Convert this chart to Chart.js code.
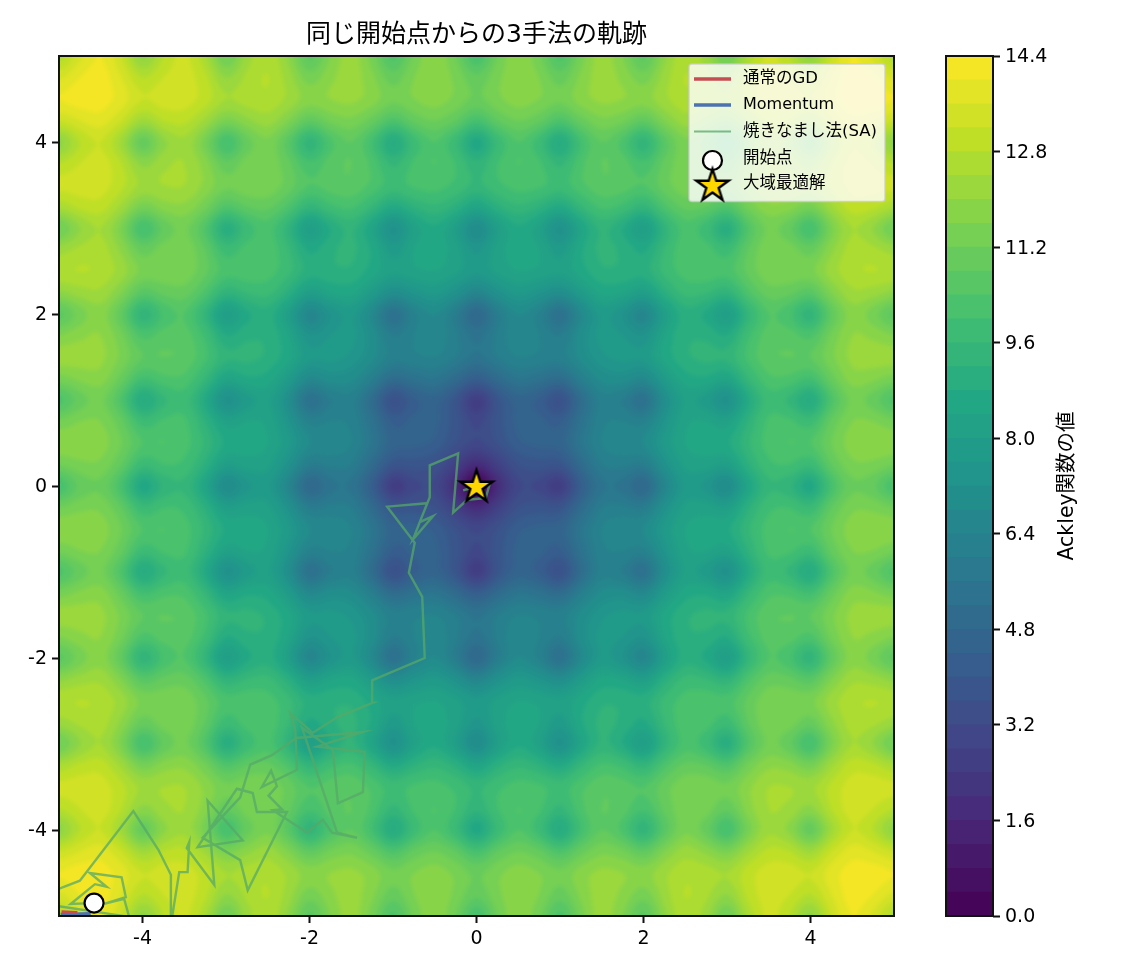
<!DOCTYPE html>
<html lang="ja">
<head>
<meta charset="utf-8">
<title>同じ開始点からの3手法の軌跡</title>
<script src="https://cdn.jsdelivr.net/npm/chart.js@4/dist/chart.umd.min.js"></script>
<style>
  body { margin: 0; background: #fff; }
  canvas { position: absolute; top: 0; }
  #main { left: 0; }
  #bar { left: 930px; }
</style>
</head>
<body>
<canvas id="main" width="1125" height="975"></canvas>
<canvas id="bar" width="195" height="975"></canvas>
<script>
// surface is symmetric about both axes, so the table holds one quadrant:
// rows are y = 0 .. 5 and columns x = 0 .. 5, in steps of gridStep
const gridStep = 0.25;
const surface = [
  [0,1.8,3.1,3.1,2.6,4.3,5.5,5.5,4.9,6.5,7.7,7.5,6.9,8.4,9.5,9.3,8.6,10.1,11.1,10.9,10.1],
  [1.8,2.7,3.6,3.8,3.8,5.0,6.0,6.1,6.0,7.2,8.1,8.2,8.0,9.1,9.9,10.0,9.7,10.8,11.5,11.5,11.2],
  [3.1,3.6,4.3,4.5,4.6,5.6,6.4,6.7,6.8,7.7,8.4,8.6,8.7,9.5,10.2,10.4,10.4,11.2,11.8,11.9,11.9],
  [3.1,3.8,4.5,4.5,4.3,5.4,6.3,6.4,6.3,7.4,8.3,8.4,8.2,9.2,10.1,10.1,9.8,10.9,11.6,11.6,11.3],
  [2.6,3.8,4.6,4.3,3.6,5.1,6.2,6.0,5.4,7.0,8.1,7.8,7.2,8.7,9.8,9.5,8.8,10.3,11.3,11.0,10.3],
  [4.3,5.0,5.6,5.4,5.1,6.1,6.9,7.0,6.7,7.8,8.6,8.7,8.4,9.5,10.3,10.3,10.0,11.0,11.8,11.7,11.4],
  [5.5,6.0,6.4,6.3,6.2,6.9,7.5,7.7,7.7,8.5,9.1,9.3,9.3,10.1,10.7,10.8,10.8,11.5,12.1,12.2,12.2],
  [5.5,6.1,6.7,6.4,6.0,7.0,7.7,7.6,7.3,8.4,9.1,9.1,8.8,9.9,10.6,10.6,10.3,11.3,12.0,11.9,11.6],
  [4.9,6.0,6.8,6.3,5.4,6.7,7.7,7.3,6.6,8.0,9.0,8.7,8.0,9.4,10.4,10.1,9.4,10.8,11.8,11.4,10.7],
  [6.5,7.2,7.7,7.4,7.0,7.8,8.5,8.4,8.0,9.0,9.7,9.6,9.3,10.3,11.0,10.9,10.6,11.6,12.3,12.2,11.9],
  [7.7,8.1,8.4,8.3,8.1,8.6,9.1,9.1,9.0,9.7,10.2,10.3,10.2,10.9,11.5,11.5,11.5,12.2,12.7,12.8,12.7],
  [7.5,8.2,8.6,8.4,7.8,8.7,9.3,9.1,8.7,9.6,10.3,10.2,9.8,10.8,11.5,11.4,11.0,11.9,12.6,12.5,12.2],
  [6.9,8.0,8.7,8.2,7.2,8.4,9.3,8.8,8.0,9.3,10.2,9.8,9.0,10.4,11.3,10.9,10.1,11.5,12.4,12.0,11.2],
  [8.4,9.1,9.5,9.2,8.7,9.5,10.1,9.9,9.4,10.3,10.9,10.8,10.4,11.3,11.9,11.8,11.4,12.3,13.0,12.9,12.5],
  [9.5,9.9,10.2,10.1,9.8,10.3,10.7,10.6,10.4,11.0,11.5,11.5,11.3,11.9,12.4,12.4,12.3,12.9,13.4,13.4,13.3],
  [9.3,10.0,10.4,10.1,9.5,10.3,10.8,10.6,10.1,10.9,11.5,11.4,10.9,11.8,12.4,12.3,11.9,12.8,13.4,13.2,12.8],
  [8.6,9.7,10.4,9.8,8.8,10.0,10.8,10.3,9.4,10.6,11.5,11.0,10.1,11.4,12.3,11.9,11.0,12.3,13.2,12.8,11.9],
  [10.1,10.8,11.2,10.9,10.3,11.0,11.5,11.3,10.8,11.6,12.2,11.9,11.5,12.3,12.9,12.8,12.3,13.2,13.8,13.6,13.2],
  [11.1,11.5,11.8,11.6,11.3,11.8,12.1,12.0,11.8,12.3,12.7,12.6,12.4,13.0,13.4,13.4,13.2,13.8,14.2,14.2,14.0],
  [10.9,11.5,11.9,11.6,11.0,11.7,12.2,11.9,11.4,12.2,12.8,12.5,12.0,12.9,13.4,13.2,12.8,13.6,14.2,14.0,13.5],
  [10.1,11.2,11.9,11.3,10.3,11.4,12.2,11.6,10.7,11.9,12.7,12.2,11.2,12.5,13.3,12.8,11.9,13.2,14.0,13.5,12.6]
];

// contour bands (lower edge of each one)
const bandEdges = [0,0.4,0.8,1.2,1.6,2,2.4,2.8,3.2,3.6,4,4.4,4.8,5.2,5.6,6,6.4,6.8,7.2,7.6,8,8.4,8.8,9.2,9.6,10,10.4,10.8,11.2,11.6,12,12.4,12.8,13.2,13.6,14];
const bandStep = 0.4;
const barTicks = [0,1.6,3.2,4.8,6.4,8,9.6,11.2,12.8,14.4];
const axisTicks = [-4,-2,0,2,4];

// trajectories
const gdX = [-4.97,-4.78];
const gdY = [-4.95,-4.96];
const momentumX = [-4.98,-4.62];
const momentumY = [-4.98,-4.97];
const saX = [-4.58,-4.86,-4.57,-4.43,-4.63,-4.25,-4.20,-4.46,-4.22,-4.16,-5.11,-5.23,-4.75,-4.11,-3.81,-3.66,-3.66,-3.56,-3.46,-3.44,-3.47,-3.14,-3.22,-2.80,-3.34,-2.87,-2.68,-2.63,-2.27,-2.74,-2.83,-3.28,-2.83,-2.71,-2.45,-2.16,-1.36,-1.91,-1.34,-1.36,-1.66,-1.72,-2.09,-1.67,-1.43,-1.73,-1.84,-2.03,-2.44,-2.33,-2.49,-2.39,-2.46,-2.57,-2.15,-2.17,-2.23,-1.96,-1.67,-1.24,-1.25,-0.62,-0.65,-0.81,-0.74,-1.07,-0.59,-0.76,-0.52,-0.68,-0.56,-0.56,-0.22,-0.28,-0.11,0.11,0.16,-0.16,0];
const saY = [-4.85,-4.86,-4.63,-4.66,-4.50,-4.55,-4.78,-4.86,-4.80,-5.01,-4.87,-4.77,-4.59,-3.78,-4.23,-4.52,-5.10,-4.49,-4.49,-4.14,-4.21,-4.64,-3.66,-4.12,-4.20,-3.52,-3.57,-3.79,-3.79,-4.70,-4.35,-4.09,-3.62,-3.24,-3.13,-2.93,-2.86,-3.03,-3.09,-3.56,-3.69,-3.07,-2.81,-4.03,-4.09,-4.03,-3.88,-4.03,-3.77,-3.76,-3.60,-3.49,-3.31,-3.50,-3.30,-2.84,-2.64,-2.87,-2.69,-2.52,-2.26,-2.00,-1.29,-1.01,-0.66,-0.24,-0.20,-0.62,-0.35,-0.42,-0.13,0.24,0.38,-0.31,-0.16,-0.14,0.03,-0.05,0];
const startX = [-4.58];
const startY = [-4.85];
const bestX = [0];
const bestY = [0];

const latinFirst = '"DejaVu Sans", "Noto Sans CJK JP", sans-serif';
const inkColor = '#111';

// viridis stops, every 0.1
const viridis = [[68,1,84],[72,36,117],[65,68,135],[53,95,141],[42,120,142],[33,145,140],[34,168,132],[68,191,112],[122,209,81],[189,223,38],[253,231,37]];

function viridisAt(t) {
  const p = Math.min(t, 1) * 10;
  const i = Math.min(Math.floor(p), 9);
  const f = p - i;
  return viridis[i].map((c, k) => Math.round(c + (viridis[i + 1][k] - c) * f));
}
const bandColors = bandEdges.map((_, i) => viridisAt((i + 0.5) / bandEdges.length));

function catmull(a, b, c, d, t) {
  return 0.5 * (2 * b + (c - a) * t + (2 * a - 5 * b + 4 * c - d) * t * t + (3 * b - a - 3 * c + d) * t * t * t);
}

// smooth lookup in the surface table, indices reflect at the axes
function surfaceAt(x, y) {
  const last = surface.length - 1;
  const wrap = i => Math.min(last, Math.abs(i));
  const fx = Math.abs(x) / gridStep, fy = Math.abs(y) / gridStep;
  const ix = Math.min(last - 1, Math.floor(fx)), iy = Math.min(last - 1, Math.floor(fy));
  const tx = fx - ix, ty = fy - iy;
  const col = [];
  for (let j = -1; j <= 2; j++) {
    const row = surface[wrap(iy + j)];
    col.push(catmull(row[wrap(ix - 1)], row[wrap(ix)], row[wrap(ix + 1)], row[wrap(ix + 2)], tx));
  }
  return catmull(col[0], col[1], col[2], col[3], ty);
}

const contourPlugin = {
  id: 'contourField',
  beforeDatasetsDraw(chart) {
    const area = chart.chartArea;
    const sx = chart.scales.x, sy = chart.scales.y;
    const w = Math.round(area.right - area.left), h = Math.round(area.bottom - area.top);
    const off = document.createElement('canvas');
    off.width = w; off.height = h;
    const octx = off.getContext('2d');
    const img = octx.createImageData(w, h);
    for (let py = 0; py < h; py++) {
      const y = sy.getValueForPixel(area.top + py + 0.5);
      for (let px = 0; px < w; px++) {
        const z = surfaceAt(sx.getValueForPixel(area.left + px + 0.5), y);
        const band = Math.max(0, Math.min(bandColors.length - 1, Math.floor(z / bandStep)));
        const c = bandColors[band], o = (py * w + px) * 4;
        img.data[o] = c[0]; img.data[o + 1] = c[1]; img.data[o + 2] = c[2]; img.data[o + 3] = 255;
      }
    }
    octx.putImageData(img, 0, 0);
    const ctx = chart.ctx;
    ctx.save();
    ctx.beginPath();
    ctx.rect(area.left, area.top, w, h);
    ctx.clip();
    ctx.drawImage(off, area.left, area.top);
    // soften the band edges a touch
    ctx.filter = 'blur(2px)';
    ctx.drawImage(off, area.left, area.top);
    ctx.restore();
  }
};

function makeStar(radius) {
  const size = Math.ceil(radius * 2 + 8);
  const c = document.createElement('canvas');
  c.width = size; c.height = size;
  const g = c.getContext('2d');
  g.translate(size / 2, size / 2 + 1);
  g.beginPath();
  for (let i = 0; i < 10; i++) {
    const r = i % 2 ? radius * 0.382 : radius;
    const a = -Math.PI / 2 + i * Math.PI / 5;
    g.lineTo(r * Math.cos(a), r * Math.sin(a));
  }
  g.closePath();
  g.fillStyle = '#ffd700';
  g.fill();
  g.lineWidth = 2.4;
  g.lineJoin = 'miter';
  g.strokeStyle = '#000';
  g.stroke();
  return c;
}
const starImage = makeStar(17);

// frame and legend box go over the trajectories
const framePlugin = {
  id: 'frameAndLegend',
  afterDatasetsDraw(chart) {
    const ctx = chart.ctx, a = chart.chartArea;
    ctx.save();
    ctx.strokeStyle = inkColor;
    ctx.lineWidth = 2;
    ctx.strokeRect(a.left, a.top, a.right - a.left, a.bottom - a.top);

    ctx.beginPath();
    ctx.roundRect(689, 64, 196, 137.5, 3);
    ctx.fillStyle = 'rgba(255,255,255,0.8)';
    ctx.fill();
    ctx.strokeStyle = 'rgba(204,204,204,0.8)';
    ctx.lineWidth = 1.5;
    ctx.stroke();

    const rows = [79, 105, 131.5, 159, 184];
    const ds = chart.data.datasets;
    ctx.textBaseline = 'middle';
    ctx.textAlign = 'left';
    ds.forEach((d, i) => {
      const y = rows[i];
      if (i < 3) {
        ctx.beginPath();
        ctx.moveTo(694, y);
        ctx.lineTo(731, y);
        ctx.strokeStyle = d.borderColor;
        ctx.lineWidth = i < 2 ? 3.5 : 2;
        ctx.stroke();
      } else if (i === 3) {
        ctx.beginPath();
        ctx.arc(712.5, y + 1.5, d.pointRadius, 0, Math.PI * 2);
        ctx.fillStyle = d.pointBackgroundColor;
        ctx.fill();
        ctx.strokeStyle = d.pointBorderColor;
        ctx.lineWidth = d.pointBorderWidth;
        ctx.stroke();
      } else {
        ctx.drawImage(starImage, 712.5 - starImage.width / 2, y + 1 - starImage.height / 2);
      }
      ctx.font = (/[^\x00-\x7f]/.test(d.label) ? '16.5px ' : '16px ') + latinFirst;
      ctx.fillStyle = '#000';
      ctx.fillText(d.label, 743, y);
    });
    ctx.restore();
  }
};

// digits sit a little high with baseline middle, push the y labels down
const nudgeLabels = {
  id: 'nudgeLabels',
  beforeDraw(chart) {
    chart.scales.y.getLabelItems(chart.chartArea).forEach(item => { item.textOffset += 1.5; });
  }
};

const toPoints = (xs, ys) => xs.map((x, i) => ({ x: x, y: ys[i] }));

function fixedAxis(size, key) {
  return function (scale) { scale[key] = size; };
}

new Chart(document.getElementById('main'), {
  type: 'scatter',
  data: {
    datasets: [
      { label: '通常のGD', data: toPoints(gdX, gdY), showLine: true, pointRadius: 0, borderColor: '#c44e52', borderWidth: 3, order: 3 },
      { label: 'Momentum', data: toPoints(momentumX, momentumY), showLine: true, pointRadius: 0, borderColor: '#4c72b0', borderWidth: 3, order: 4 },
      { label: '焼きなまし法(SA)', data: toPoints(saX, saY), showLine: true, pointRadius: 0, borderColor: 'rgba(85,168,104,0.75)', borderWidth: 2.4, order: 2 },
      { label: '開始点', data: toPoints(startX, startY), pointRadius: 9.5, pointBackgroundColor: '#fff', pointBorderColor: '#000', pointBorderWidth: 2.2, order: 1 },
      { label: '大域最適解', data: toPoints(bestX, bestY), pointStyle: starImage, order: 0 }
    ]
  },
  plugins: [contourPlugin, framePlugin, nudgeLabels],
  options: {
    responsive: false,
    animation: false,
    layout: { padding: { right: 231, left: 0, top: 0, bottom: 0 } },
    plugins: {
      legend: { display: false },
      tooltip: { enabled: false },
      title: {
        display: true,
        fullSize: false,
        text: '同じ開始点からの3手法の軌跡',
        color: '#000',
        font: { family: latinFirst, size: 25, weight: 'normal' },
        padding: { top: 20, bottom: 6 }
      }
    },
    scales: {
      x: {
        type: 'linear', min: -5, max: 5,
        afterFit: fixedAxis(59, 'height'),
        afterBuildTicks: s => { s.ticks = axisTicks.map(v => ({ value: v })); },
        grid: { drawOnChartArea: false, drawTicks: true, tickLength: 7, tickColor: inkColor, tickWidth: 2 },
        border: { display: false },
        ticks: { color: '#000', font: { family: latinFirst, size: 19 }, padding: 5, maxRotation: 0, callback: v => String(v) }
      },
      y: {
        type: 'linear', min: -5, max: 5,
        afterFit: fixedAxis(59, 'width'),
        afterBuildTicks: s => { s.ticks = axisTicks.map(v => ({ value: v })); },
        grid: { drawOnChartArea: false, drawTicks: true, tickLength: 7, tickColor: inkColor, tickWidth: 2 },
        border: { display: false },
        ticks: { color: '#000', font: { family: latinFirst, size: 19 }, padding: 5, callback: v => String(v) }
      }
    }
  }
});

// colour bar, its label reads upward so it is drawn by hand
const barLabelPlugin = {
  id: 'barLabel',
  afterDraw(chart) {
    const ctx = chart.ctx, a = chart.chartArea;
    ctx.save();
    ctx.strokeStyle = inkColor;
    ctx.lineWidth = 2;
    ctx.strokeRect(a.left, a.top, a.right - a.left, a.bottom - a.top);
    ctx.translate(138, 486);
    ctx.rotate(-Math.PI / 2);
    ctx.textAlign = 'center';
    ctx.textBaseline = 'middle';
    ctx.font = '20.5px ' + latinFirst;
    ctx.fillStyle = '#000';
    ctx.fillText('Ackley関数の値', 0, 0);
    ctx.restore();
  }
};

new Chart(document.getElementById('bar'), {
  type: 'bar',
  data: {
    labels: ['z'],
    datasets: bandEdges.map((edge, i) => ({
      label: String(edge),
      data: [bandStep],
      backgroundColor: 'rgb(' + bandColors[i].join(',') + ')',
      barPercentage: 1,
      categoryPercentage: 1,
      borderWidth: 0
    }))
  },
  plugins: [barLabelPlugin, nudgeLabels],
  options: {
    responsive: false,
    animation: false,
    layout: { padding: { left: 16, right: 0, top: 56, bottom: 59 } },
    plugins: { legend: { display: false }, tooltip: { enabled: false } },
    scales: {
      x: { stacked: true, display: false },
      y: {
        stacked: true, position: 'right', min: 0, max: 14.4,
        afterFit: fixedAxis(132, 'width'),
        afterBuildTicks: s => { s.ticks = barTicks.map(v => ({ value: v })); },
        grid: { drawOnChartArea: false, drawTicks: true, tickLength: 7, tickColor: inkColor, tickWidth: 2 },
        border: { display: false },
        ticks: { color: '#000', font: { family: latinFirst, size: 19 }, padding: 5, callback: v => v.toFixed(1) }
      }
    }
  }
});
</script>
</body>
</html>
